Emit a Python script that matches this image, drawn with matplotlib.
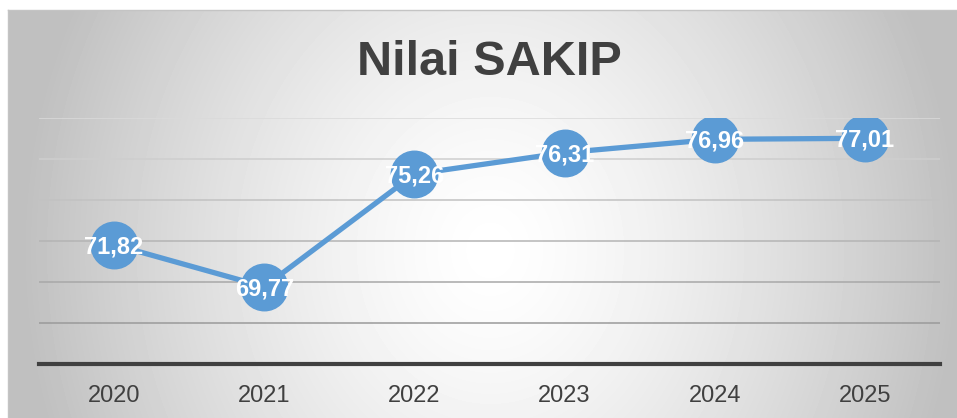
import numpy as np
import matplotlib
matplotlib.use("Agg")
import matplotlib.pyplot as plt

# data
years = ["2020", "2021", "2022", "2023", "2024", "2025"]
nilai = [71.82, 69.77, 75.26, 76.31, 76.96, 77.01]
labels = ["71,82", "69,77", "75,26", "76,31", "76,96", "77,01"]
grid_vals = [68, 70, 72, 74, 76, 78]

plt.rcParams['font.family'] = ['Liberation Sans', 'DejaVu Sans']

W, H = 957, 418
fig = plt.figure(figsize=(W / 100, H / 100), dpi=100)
fig.patch.set_facecolor("white")

# radial grey background panel
bg = fig.add_axes([8 / W, 0, 1 - 8 / W, (H - 10) / H])
yy, xx = np.mgrid[0:408, 0:949]
r = np.sqrt(((xx - 482) / 470.0) ** 2 + ((yy - 240) / 540.0) ** 2)
shade = 1 - 0.25 * np.clip(r, 0, 1) ** 1.4
bg.imshow(shade, cmap="gray", vmin=0, vmax=1, aspect="auto",
          interpolation="bilinear")
bg.set_axis_off()
fig.add_artist(plt.Line2D([8 / W, 1], [(H - 10) / H] * 2, color="#c4c4c4", lw=1))
fig.add_artist(plt.Line2D([8 / W] * 2, [0, (H - 10) / H], color="#c4c4c4", lw=1))

ax = fig.add_axes([39 / W, 54 / H, 901 / W, 246 / H])
ax.patch.set_alpha(0)
x = np.arange(len(years))

grid_colors = ["#9a9a9a", "#a8a8a8", "#b4b4b4", "#c2c2c2", "#cecece", "#dadada"]
for g, c in zip(grid_vals, grid_colors):
    ax.axhline(g, color=c, lw=1.1, zorder=1)

ax.plot(x, nilai, color="#5b9bd5", lw=3.8, marker="o", markersize=33.5,
        solid_capstyle="round", zorder=3)
for xi, v, t in zip(x, nilai, labels):
    ax.annotate(t, (xi, v), xytext=(0, -6.1), textcoords="offset points",
                ha="center", va="baseline", color="white", fontsize=17,
                fontweight="bold", zorder=4)

ax.set_xlim(-0.5, len(years) - 0.5)
ax.set_ylim(66, 78)
ax.set_xticks(x)
ax.set_xticklabels(years, fontsize=17, color="#404040")
ax.set_yticks([])
ax.tick_params(axis="x", length=0, pad=15)
for s in ["top", "left", "right"]:
    ax.spines[s].set_visible(False)
ax.spines["bottom"].set_color("#404040")
ax.spines["bottom"].set_linewidth(3)
ax.spines["bottom"].set_zorder(2)

fig.text(489.5 / W, (H - 75) / H, "Nilai SAKIP", ha="center", va="baseline",
         fontsize=35, fontweight="bold", color="#404040")

fig.savefig("out.png", dpi=100)
